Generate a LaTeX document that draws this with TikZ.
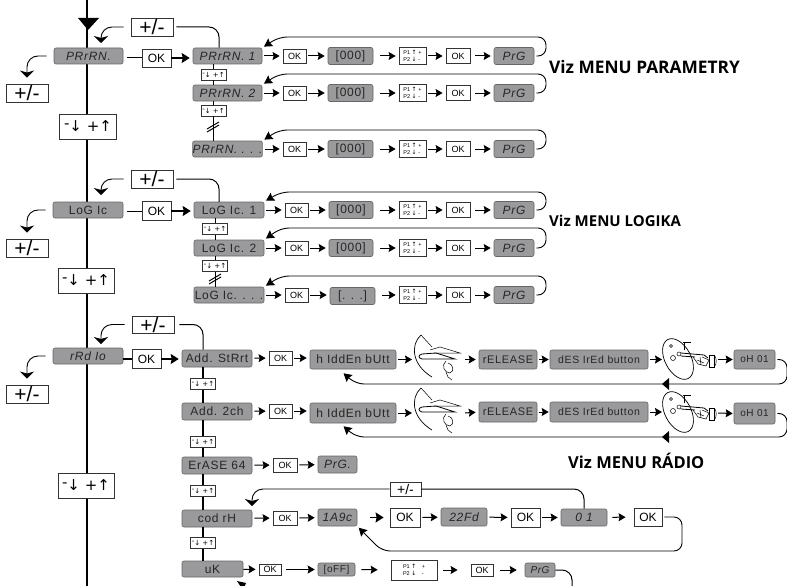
\documentclass[tikz,border=0pt]{standalone}
\usepackage{fontspec}
\setmainfont{Liberation Sans}
\newfontfamily\headfont{Open Sans}
\newfontfamily\arrowfont{DejaVu Sans}
\newfontfamily\lcdfont[LetterSpace=6]{Liberation Sans}
\usetikzlibrary{arrows.meta}
\definecolor{lcdgray}{HTML}{9A9A9C}
\newcommand{\keytext}{{\arrowfont\raisebox{.25em}{-}↓ +↑}}
\newcommand{\ptext}{P1 {\arrowfont\fontsize{6}{6}\selectfont↑} +\\P2 {\arrowfont\fontsize{6}{6}\selectfont↓} -}
\tikzset{
  size/.style n args={2}{minimum width=#1,minimum height=#2},
  lcd/.style={draw=black!60,fill=lcdgray,rounded corners=2,inner sep=0,text=black!85,line width=.6,font=\lcdfont\fontsize{12}{12}\selectfont},
  lcdslant/.style={lcd,font=\lcdfont\itshape\fontsize{12}{12}\selectfont},
  okbox/.style={draw=black!80,fill=white,inner sep=0,line width=.8,font=\fontsize{9}{9}\selectfont},
  okbig/.style={okbox,font=\fontsize{12}{12}\selectfont},
  plusbox/.style={draw=black!80,fill=white,inner sep=0,line width=.9,size={42}{18},font=\fontsize{21}{21}\selectfont},
  keybig/.style={okbox,line width=.9,size={57}{25},font=\fontsize{15}{15}\selectfont},
  keysmall/.style={okbox,line width=.6,size={25}{11},font=\fontsize{7}{7}\selectfont},
  pbox/.style={okbox,line width=.7,align=left,font=\fontsize{5.5}{7.5}\selectfont},
  link/.style={-{Stealth[length=7,width=8,inset=1]},line width=1,shorten <=2,shorten >=3},
  linkbig/.style={-{Stealth[length=8,width=10,inset=1]},line width=1.4,shorten >=3},
  back/.style={-{Stealth[length=8,width=9,inset=1]},line width=.9,rounded corners=8,shorten <=2,shorten >=2},
  drop/.style={-{Stealth[length=7,width=14,inset=2]},line width=.9,rounded corners=11,shorten <=7},
  wire/.style={line width=1,rounded corners=10,shorten <=3},
  stem/.style={line width=1},
  stemwide/.style={line width=1.6},
  sketch/.style={line width=.5},
  title/.style={inner sep=0,anchor=west,font=\headfont\bfseries\fontsize{#1}{#1}\selectfont},
  pics/presshand/.style={code={
    \draw[sketch,line width=.7] (11,0) .. controls (0,10) and (2,30) .. (22,42);
    \draw[sketch] (11,0) -- (22,12);
    \draw[sketch] (20,15) -- (30,12) -- (50,18) -- (24,18);
    \draw[sketch,line width=.8] (12,19) -- (26,18) -- (45,24) -- (12,24) .. controls (8,23) and (8,20) .. (12,19);
    \draw[sketch] (36,26) .. controls (31,30) and (34,38) .. (40,38) .. controls (45,36) and (43,29) .. (38,28);
    \draw[sketch] (36,37) -- (38,42) -- (42,45);
  }},
  pics/tappedhand/.style={code={
    \draw[sketch,line width=.7] (18,24) ellipse [x radius=22pt,y radius=13pt,rotate=-62];
    \draw[sketch] (11,11) circle [radius=1.5pt];
    \draw[sketch] (13,23) circle [radius=2.5pt];
    \draw[sketch] (24,15) -- (24,7) (23,7) -- (31,7);
    \draw[sketch] (19,19) circle [radius=2pt];
    \draw[sketch,line width=.8] (21,18) -- (44,20) -- (48,23) (21,21) -- (35,22);
    \draw[sketch] (33,22) -- (38,29) -- (46,31) -- (49,25) -- (42,22) (37,25) -- (44,28) (40,22) -- (41,30);
    \draw[sketch,line width=.8] (49,20) rectangle (54,32);
    \draw[sketch] (54,20) .. controls (57,22) and (57,30) .. (54,32);
  }}
}
\begin{document}
\begin{tikzpicture}[x=1pt,y=-1pt]
  \useasboundingbox (0,0) rectangle (787,586);
  % main line
  \coordinate (mainTop) at (87,0);
  \coordinate (mainEnd) at (87,586);
  \draw[line width=1.8] (mainTop) -- (mainEnd);
  \fill (78,18) -- (99,18) -- (88,30) -- cycle;
  \coordinate (dropParam) at (101,43);
  \coordinate (dropLogic) at (101,195);
  \coordinate (dropRadio) at (101,344);
  \node[lcdslant,size={69}{16}] (paramMain) at (88.5,56) {PRrRN.};
  \node[plusbox] (paramPlus) at (152,27) {+/-};
  \node[plusbox] (paramOut) at (27,93) {+/-};
  \node[okbig,size={29}{18}] (paramOk) at (156.5,58) {OK};
  \node[okbox,keybig] (paramKey) at (88,126.5) {\keytext};
  \node[lcd,size={70}{16}] (logicMain) at (88,210) {LoG Ic};
  \node[plusbox] (logicPlus) at (152,179) {+/-};
  \node[plusbox] (logicOut) at (27,248) {+/-};
  \node[okbig,size={29}{19}] (logicOk) at (156.5,211) {OK};
  \node[okbox,keybig,minimum width=56] (logicKey) at (86,280.5) {\keytext};
  \node[lcdslant,size={70}{16}] (radioMain) at (88,356) {rRd Io};
  \node[plusbox,minimum height=17] (radioPlus) at (153,324.5) {+/-};
  \node[plusbox] (radioOut) at (27,394) {+/-};
  \node[okbig,size={29}{19}] (radioOk) at (146.5,359) {OK};
  \node[okbox,keybig,minimum width=56] (radioKey) at (86,485.5) {\keytext};
  % parametry rows
  \node[lcdslant,size={69}{16}] (paramA) at (227.5,56) {PRrRN. 1};
  \node[okbox,size={23}{14}] (paramAok) at (294.5,56) {OK};
  \node[lcd,size={45}{17}] (paramAval) at (350.5,56) {[000]};
  \node[pbox,size={27}{17}] (paramAp) at (412.5,56) {\ptext};
  \node[okbox,size={24}{15}] (paramAdone) at (458,56) {OK};
  \node[lcdslant,size={40}{17}] (paramAprg) at (514,56) {PrG};
  \node[keysmall] (paramKeyA) at (213.5,74.5) {\keytext};
  \node[lcdslant,size={69}{16}] (paramB) at (227.5,93) {PRrRN. 2};
  \node[okbox,size={23}{14}] (paramBok) at (294.5,93) {OK};
  \node[lcd,size={45}{17}] (paramBval) at (350.5,93) {[000]};
  \node[pbox,size={27}{17}] (paramBp) at (412.5,93) {\ptext};
  \node[okbox,size={24}{15}] (paramBdone) at (458,93) {OK};
  \node[lcdslant,size={40}{17}] (paramBprg) at (514,93) {PrG};
  \node[keysmall] (paramKeyB) at (213.5,110.5) {\keytext};
  \node[lcdslant,size={69}{16}] (paramC) at (227.5,149) {PRrRN. . . .};
  \node[okbox,size={23}{14}] (paramCok) at (294.5,149) {OK};
  \node[lcd,size={45}{17}] (paramCval) at (350.5,149) {[000]};
  \node[pbox,size={27}{17}] (paramCp) at (412.5,149) {\ptext};
  \node[okbox,size={24}{15}] (paramCdone) at (458,149) {OK};
  \node[lcdslant,size={40}{17}] (paramCprg) at (514,149) {PrG};
  \node[title=17.3] (paramTitle) at (549,67) {Viz MENU PARAMETRY};
  % logika rows
  \node[lcd,size={70}{16}] (logicA) at (229,210) {LoG Ic. 1};
  \node[okbox,size={23}{14}] (logicAok) at (296.5,210) {OK};
  \node[lcd,size={44}{17}] (logicAval) at (351,210) {[000]};
  \node[pbox,size={27}{17}] (logicAp) at (412.5,210) {\ptext};
  \node[okbox,size={24}{15}] (logicAdone) at (458,210) {OK};
  \node[lcdslant,size={40}{17}] (logicAprg) at (514,210) {PrG};
  \node[keysmall] (logicKeyA) at (215,229) {\keytext};
  \node[lcd,size={70}{16}] (logicB) at (229,248) {LoG Ic. 2};
  \node[okbox,size={23}{14}] (logicBok) at (296.5,248) {OK};
  \node[lcd,size={44}{17}] (logicBval) at (351,248) {[000]};
  \node[pbox,size={27}{17}] (logicBp) at (412.5,248) {\ptext};
  \node[okbox,size={24}{15}] (logicBdone) at (458,248) {OK};
  \node[lcdslant,size={40}{17}] (logicBprg) at (514,248) {PrG};
  \node[keysmall] (logicKeyB) at (215,266) {\keytext};
  \node[lcd,size={70}{16}] (logicC) at (229,295) {LoG Ic. . . .};
  \node[okbox,size={23}{14}] (logicCok) at (296.5,295) {OK};
  \node[lcd,size={45}{17}] (logicCval) at (352.5,296) {[. . .]};
  \node[pbox,size={27}{17}] (logicCp) at (412.5,295) {\ptext};
  \node[okbox,size={24}{15}] (logicCdone) at (458,295) {OK};
  \node[lcdslant,size={40}{17}] (logicCprg) at (514,295) {PrG};
  \node[title=15] (logicTitle) at (549,221) {Viz MENU LOGIKA};
  % radio rows
  \node[lcd,size={70}{17}] (addA) at (217,358.5) {Add. StRrt};
  \node[okbox,size={23}{14}] (addAok) at (280.5,358) {OK};
  \node[lcd,size={86}{19}] (addAhide) at (353,359.5) {h IddEn bUtt};
  \node[lcd,size={58}{19},font=\lcdfont\fontsize{11}{11}\selectfont] (addArel) at (508,359.5) {rELEASE};
  \node[lcd,size={98}{19},font=\lcdfont\fontsize{10.5}{10.5}\selectfont] (addAwant) at (599,359.5) {dES IrEd button};
  \node[lcd,size={41}{19},font=\lcdfont\fontsize{10}{10}\selectfont] (addAdone) at (754.5,359.5) {oH 01};
  \node[keysmall] (addKeyA) at (203,384) {\keytext};
  \node[lcd,size={70}{17}] (addB) at (217,411.5) {Add. 2ch};
  \node[okbox,size={23}{14}] (addBok) at (280.5,411) {OK};
  \node[lcd,size={86}{20}] (addBhide) at (353,413) {h IddEn bUtt};
  \node[lcd,size={58}{20},font=\lcdfont\fontsize{11}{11}\selectfont] (addBrel) at (508,412) {rELEASE};
  \node[lcd,size={98}{20},font=\lcdfont\fontsize{10.5}{10.5}\selectfont] (addBwant) at (599,412) {dES IrEd button};
  \node[lcd,size={41}{21},font=\lcdfont\fontsize{10}{10}\selectfont] (addBdone) at (754.5,413.5) {oH 01};
  \node[keysmall] (addKeyB) at (203,442) {\keytext};
  \node[lcd,size={70}{17}] (eraseRow) at (217,465.5) {ErASE 64};
  \node[okbox,size={24}{14}] (eraseOk) at (285,465) {OK};
  \node[lcdslant,size={39}{17}] (erasePrg) at (337.5,464.5) {PrG.};
  \node[title=16.5] (radioTitle) at (568,461) {Viz MENU RÁDIO};
  \node[keysmall] (addKeyC) at (203,491) {\keytext};
  \node[lcd,size={70}{17}] (codRow) at (217,518.5) {cod rH};
  \node[okbox,size={24}{14}] (codOk) at (285,518) {OK};
  \node[lcdslant,size={39}{17}] (codHex) at (337.5,517.5) {1A9c};
  \node[okbig,size={30}{19}] (codOkB) at (405,517.5) {OK};
  \node[lcdslant,size={46}{18}] (codWord) at (464,517) {22Fd};
  \node[okbig,size={29}{19}] (codOkC) at (525.5,517.5) {OK};
  \node[lcdslant,size={46}{17}] (codNum) at (584,517.5) {0 1};
  \node[okbig,size={28}{18}] (codOkD) at (648,517) {OK};
  \node[plusbox,size={31}{14},font=\fontsize{14}{14}\selectfont] (codPlus) at (405.5,489) {+/-};
  \node[keysmall] (addKeyD) at (203,543) {\keytext};
  \node[lcd,size={61}{16}] (ukRow) at (212.5,569) {uK};
  \node[okbox,size={22}{11}] (ukOk) at (270,569.5) {OK};
  \node[lcd,size={37}{13},font=\lcdfont\fontsize{10}{10}\selectfont] (ukVal) at (336.5,569.5) {[oFF]};
  \node[pbox,size={46}{20}] (ukP) at (414,570) {P1 {\arrowfont\fontsize{6}{6}\selectfont↑}\quad +\\P2 {\arrowfont\fontsize{6}{6}\selectfont↓}\quad -};
  \node[okbox,size={22}{12}] (ukOkB) at (482,570) {OK};
  \node[lcdslant,size={30}{14},font=\lcdfont\itshape\fontsize{10}{10}\selectfont] (ukPrg) at (540,570) {PrG};
  % left side
  \draw[drop] (paramPlus.west) -| (dropParam);
  \draw[drop] (logicPlus.west) -| (dropLogic);
  \draw[drop] (radioPlus.west) -| (dropRadio);
  \draw[drop,shorten >=6] (paramMain.west) -| (paramOut.north);
  \draw[drop,shorten >=6] (logicMain.west) -| (logicOut.north);
  \draw[drop,shorten >=6] (radioMain.west) -| (radioOut.north);
  \draw[stem,shorten <=4] (paramMain.east |- paramOk) -- (paramOk);
  \draw[stem,shorten <=4] (logicMain.east |- logicOk) -- (logicOk);
  \draw[stemwide] (radioMain.east |- radioOk) -- (radioOk);
  \draw[linkbig] (paramOk) -- (paramOk -| paramA.west);
  \draw[linkbig] (logicOk) -- (logicOk -| logicA.west);
  \draw[linkbig] (radioOk) -- (radioOk -| addA.west);
  \draw[wire] (paramPlus.east) -| (paramA.north -| 219,0);
  \draw[wire] (logicPlus.east) -- (219,179) -- (219,202);
  \draw[wire,shorten <=5] (radioPlus.east) -| (addA.north -| 203,0);
  % parametry links
  \draw[link] (paramA) -- (paramAok);
  \draw[link] (paramAok) -- (paramAval);
  \draw[link,shorten <=7] (paramAval) -- (paramAp);
  \draw[link] (paramAp) -- (paramAdone);
  \draw[link,shorten <=5] (paramAdone) -- (paramAprg);
  \draw[back] (paramAprg.east) -- (546,56) -- (546,37) -- (279,37) -- (paramA.north east);
  \draw[link] (paramB) -- (paramBok);
  \draw[link] (paramBok) -- (paramBval);
  \draw[link,shorten <=7] (paramBval) -- (paramBp);
  \draw[link] (paramBp) -- (paramBdone);
  \draw[link,shorten <=5] (paramBdone) -- (paramBprg);
  \draw[back] (paramBprg.east) -- (546,93) -- (546,74) -- (279,74) -- (paramB.north east);
  \draw[link] (paramC) -- (paramCok);
  \draw[link] (paramCok) -- (paramCval);
  \draw[link,shorten <=7] (paramCval) -- (paramCp);
  \draw[link] (paramCp) -- (paramCdone);
  \draw[link,shorten <=5] (paramCdone) -- (paramCprg);
  \draw[back] (paramCprg.east) -- (546,149) -- (546,130) -- (279,130) -- (paramC.north east);
  \draw[stem] (paramA.south -| paramKeyA) -- (paramKeyA);
  \draw[stem] (paramKeyA) -- (paramB.north -| paramKeyA);
  \draw[stem] (paramB.south -| paramKeyA) -- (paramKeyB);
  \draw[stem] (paramKeyB) -- (paramC.north -| paramKeyB);
  \draw[stem] (207,129) -- (219,122) (207,132) -- (219,125);
  % logika links
  \draw[link] (logicA) -- (logicAok);
  \draw[link] (logicAok) -- (logicAval);
  \draw[link,shorten <=7] (logicAval) -- (logicAp);
  \draw[link] (logicAp) -- (logicAdone);
  \draw[link,shorten <=5] (logicAdone) -- (logicAprg);
  \draw[back] (logicAprg.east) -- (546,210) -- (546,192) -- (281,192) -- (logicA.north east);
  \draw[link] (logicB) -- (logicBok);
  \draw[link] (logicBok) -- (logicBval);
  \draw[link,shorten <=7] (logicBval) -- (logicBp);
  \draw[link] (logicBp) -- (logicBdone);
  \draw[link,shorten <=5] (logicBdone) -- (logicBprg);
  \draw[back] (logicBprg.east) -- (546,248) -- (546,228) -- (281,228) -- (logicB.north east);
  \draw[link] (logicC) -- (logicCok);
  \draw[link] (logicCok) -- (logicCok -| logicCval.west);
  \draw[link,shorten <=7] (logicCval.east |- logicCp) -- (logicCp);
  \draw[link] (logicCp) -- (logicCdone);
  \draw[link,shorten <=5] (logicCdone) -- (logicCprg);
  \draw[back] (logicCprg.east) -- (546,295) -- (546,276) -- (281,276) -- (logicC.north east);
  \draw[stem] (logicA.south -| logicKeyA) -- (logicKeyA);
  \draw[stem] (logicKeyA) -- (logicB.north -| logicKeyA);
  \draw[stem] (logicB.south -| logicKeyA) -- (logicKeyB);
  \draw[stem] (logicKeyB) -- (logicC.north -| logicKeyB);
  \draw[stem] (209,281) -- (221,274) (209,284) -- (221,277);
  % radio links
  \draw[link] (addA) -- (addAok);
  \draw[link] (addAok) -- (addAok -| addAhide.west);
  \pic at (410,335) {presshand};
  \draw[link,shorten >=0] (addAhide.east) -- (412,359.5);
  \draw[link,shorten <=0] (465,359.5) -- (addArel.west);
  \draw[link,shorten >=1] (addArel) -- (addAwant);
  \draw[link,shorten >=0] (addAwant) -- (662,359.5);
  \pic at (660,335) {tappedhand};
  \draw[link,shorten <=0,shorten >=1] (718,359.5) -- (addAdone.west);
  \draw[back] (addAdone.east) -- (787,359.5) -- (787,384) -- (356,384) -- (342,372);
  \fill (662,384) -- (669,378) -- (669,390) -- cycle;
  \draw[link] (addB) -- (addBok);
  \draw[link] (addBok) -- (addBok -| addBhide.west);
  \pic at (410,388) {presshand};
  \draw[link,shorten >=0] (addBhide.east) -- (412,413);
  \draw[link,shorten <=0] (465,413) -- (addBrel.west);
  \draw[link,shorten >=1] (addBrel) -- (addBwant);
  \draw[link,shorten >=0] (addBwant) -- (662,412);
  \pic at (660,388) {tappedhand};
  \draw[link,shorten <=0,shorten >=1] (718,413) -- (addBdone.west);
  \draw[back] (addBdone.east) -- (787,413.5) -- (787,437) -- (356,437) -- (342,425);
  \fill (662,437) -- (669,431) -- (669,443) -- cycle;
  \draw[stemwide] (addA.south -| addKeyA) -- (addKeyA);
  \draw[stemwide] (addKeyA) -- (addB.north -| addKeyA);
  \draw[stemwide] (addB.south -| addKeyA) -- (addKeyB);
  \draw[stemwide] (addKeyB) -- (eraseRow.north -| addKeyB);
  \draw[stemwide] (eraseRow.south -| addKeyB) -- (addKeyC);
  \draw[stemwide] (addKeyC) -- (codRow.north -| addKeyC);
  \draw[stemwide] (codRow.south -| addKeyC) -- (addKeyD);
  \draw[stemwide] (addKeyD) -- (ukRow.north -| addKeyD);
  \draw[link] (eraseRow) -- (eraseOk);
  \draw[link] (eraseOk) -- (erasePrg);
  \draw[link] (codRow) -- (codOk);
  \draw[link] (codOk) -- (codHex);
  \draw[linkbig,shorten <=13,shorten >=6] (codHex) -- (codOkB);
  \draw[link] (codOkB) -- (codWord);
  \draw[link] (codWord) -- (codOkC);
  \draw[link] (codOkC) -- (codNum);
  \draw[link,shorten <=5,shorten >=8] (codNum) -- (codOkD);
  \draw[back] (codOkD.east) -- (682,517) -- (682,551) -- (382,551) -- (codHex.south east);
  \draw[drop,shorten <=0] (codPlus.west) -| (252,506);
  \draw[wire,shorten <=0] (codPlus.east) -| (codNum.north);
  \draw[link,shorten <=0] (ukRow) -- (ukOk);
  \draw[link,shorten <=5] (ukOk) -- (ukVal);
  \draw[link,shorten <=6,shorten >=13] (ukVal) -- (ukP);
  \draw[link,shorten <=6,shorten >=13] (ukP) -- (ukOkB);
  \draw[link,shorten <=7,shorten >=8] (ukOkB) -- (ukPrg);
  \draw[wire,shorten <=0] (ukPrg.east) -| (572,586);
  \fill (237,581) -- (246,583) -- (243,590) -- cycle;
\end{tikzpicture}
\end{document}
